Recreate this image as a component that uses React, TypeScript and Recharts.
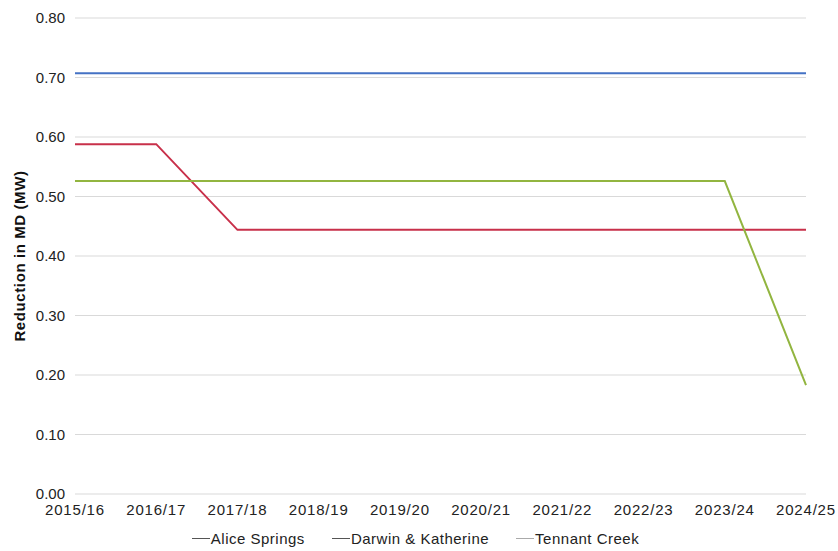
import React from 'react';
import { LineChart, Line, XAxis, YAxis, CartesianGrid, Legend } from 'recharts';

const years = ['2015/16', '2016/17', '2017/18', '2018/19', '2019/20', '2020/21', '2021/22', '2022/23', '2023/24', '2024/25'];
const aliceSprings = [0.707, 0.707, 0.707, 0.707, 0.707, 0.707, 0.707, 0.707, 0.707, 0.707];
const darwinKatherine = [0.588, 0.588, 0.444, 0.444, 0.444, 0.444, 0.444, 0.444, 0.444, 0.444];
const tennantCreek = [0.526, 0.526, 0.526, 0.526, 0.526, 0.526, 0.526, 0.526, 0.526, 0.183];
const yTicks = [0, 0.1, 0.2, 0.3, 0.4, 0.5, 0.6, 0.7, 0.8];

const seriesNames = ['Alice Springs', 'Darwin & Katherine', 'Tennant Creek'];
const legendColors = ['#555', '#555', '#aaa'];

const data = years.map((year, i) => ({
    year,
    alice: aliceSprings[i],
    darwin: darwinKatherine[i],
    tennant: tennantCreek[i],
}));

const font = '"Liberation Sans", Arial, sans-serif';

// legend drawn by hand to get the scanned look (plain grey dashes, tight text)
const renderLegend = () => (
    <div style={{ display: 'flex', justifyContent: 'center', gap: 27, fontFamily: font, fontSize: 15, letterSpacing: 0.5, color: '#222', paddingTop: 10, paddingLeft: 10 }}>
        {seriesNames.map((name, i) => (
            <span key={name} style={{ display: 'flex', alignItems: 'center' }}>
                <span style={{ display: 'inline-block', width: 18, height: 1.5, background: legendColors[i], marginRight: 1 }} />
                {name}
            </span>
        ))}
    </div>
);

const App: React.FC = () => {
    return (
        <div style={{ position: 'absolute', left: 0, top: 0, width: 838, height: 551, background: '#fff' }}>
            <LineChart width={838} height={551} data={data} margin={{ top: 18, right: 32, left: 15, bottom: 0 }}>
                <CartesianGrid vertical={false} stroke="#d9d9d9" />
                <XAxis
                    dataKey="year"
                    axisLine={false}
                    tickLine={false}
                    tickSize={0}
                    tickMargin={10}
                    height={26}
                    interval={0}
                    tick={{ fontFamily: font, fontSize: 15, letterSpacing: 0.8, fill: '#222' }}
                />
                <YAxis
                    domain={[0, 0.8]}
                    ticks={yTicks}
                    axisLine={false}
                    tickLine={false}
                    tickSize={0}
                    tickMargin={10}
                    width={60}
                    tickFormatter={(v: number) => v.toFixed(2)}
                    tick={{ fontFamily: font, fontSize: 15, fill: '#222' }}
                    label={{
                        value: 'Reduction in MD (MW)',
                        angle: -90,
                        position: 'insideLeft',
                        dx: 0,
                        style: { fontFamily: font, fontSize: 15, letterSpacing: 0.6, fontWeight: 'bold', fill: '#111', textAnchor: 'middle' },
                    }}
                />
                <Legend verticalAlign="bottom" height={31} content={renderLegend} />
                <Line type="linear" dataKey="alice" name={seriesNames[0]} stroke="#4472c4" strokeWidth={2} dot={false} isAnimationActive={false} />
                <Line type="linear" dataKey="darwin" name={seriesNames[1]} stroke="#c8304a" strokeWidth={2} dot={false} isAnimationActive={false} />
                <Line type="linear" dataKey="tennant" name={seriesNames[2]} stroke="#92b540" strokeWidth={2} dot={false} isAnimationActive={false} />
            </LineChart>
        </div>
    );
};

export default App;
